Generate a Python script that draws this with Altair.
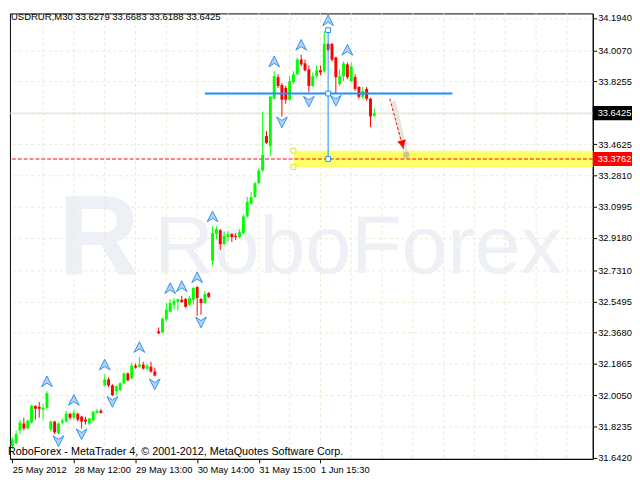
import altair as alt
import pandas as pd

# ---------------- data ----------------
opens = [31.710, 31.727, 31.801, 31.841, 31.813, 31.847, 31.944, 31.938, 31.921, 31.932,
         31.807, 31.853, 31.784, 31.847, 31.853, 31.898, 31.875, 31.898, 31.881, 31.864,
         31.841, 31.858, 31.904, 31.915, 32.063, 32.097, 32.063, 32.029, 32.035, 32.075,
         32.132, 32.103, 32.177, 32.171, 32.183, 32.160, 32.171, 32.143, 32.376, 32.371,
         32.445, 32.490, 32.530, 32.547, 32.559, 32.564, 32.530, 32.559, 32.633, 32.564,
         32.541, 32.598, 32.786, 32.940, 32.963, 32.883, 32.923, 32.940, 32.929, 32.923,
         32.946, 33.043, 33.117, 33.156, 33.236, 33.310, 33.509, 33.452, 33.726, 33.851,
         33.805, 33.788, 33.720, 33.822, 33.868, 33.953, 33.931, 33.896, 33.800, 33.857,
         33.891, 33.885, 34.044, 34.044, 33.965, 33.811, 33.857, 33.925, 33.828, 33.851,
         33.794, 33.737, 33.783, 33.726, 33.6279]
highs = [31.762, 31.801, 31.864, 31.875, 31.864, 31.949, 31.946, 31.967, 31.955, 32.029,
         31.858, 31.858, 31.847, 31.870, 31.915, 31.904, 31.921, 31.904, 31.887, 31.881,
         31.875, 31.915, 31.927, 31.927, 32.126, 32.109, 32.069, 32.063, 32.080, 32.137,
         32.137, 32.194, 32.189, 32.228, 32.200, 32.189, 32.200, 32.166, 32.399, 32.456,
         32.541, 32.564, 32.570, 32.566, 32.581, 32.570, 32.581, 32.633, 32.638, 32.570,
         32.610, 32.604, 32.986, 32.986, 32.969, 32.957, 32.957, 32.946, 32.946, 32.969,
         33.054, 33.156, 33.185, 33.242, 33.321, 33.652, 33.538, 33.743, 33.885, 33.868,
         33.817, 33.800, 33.857, 33.885, 33.965, 33.982, 33.953, 33.919, 33.879, 33.919,
         33.919, 34.120, 34.050, 34.050, 33.970, 33.896, 33.942, 33.936, 33.936, 33.868,
         33.800, 33.794, 33.794, 33.731, 33.6683]
lows = [31.693, 31.722, 31.779, 31.801, 31.807, 31.841, 31.864, 31.875, 31.864, 31.921,
        31.796, 31.779, 31.779, 31.836, 31.847, 31.864, 31.864, 31.853, 31.813, 31.836,
        31.830, 31.853, 31.898, 31.898, 32.058, 32.052, 32.001, 32.006, 32.029, 32.069,
        32.086, 32.097, 32.160, 32.166, 32.154, 32.149, 32.137, 32.115, 32.359, 32.365,
        32.433, 32.485, 32.502, 32.496, 32.541, 32.513, 32.524, 32.530, 32.468, 32.473,
        32.536, 32.570, 32.758, 32.912, 32.849, 32.877, 32.895, 32.895, 32.906, 32.917,
        32.940, 33.037, 33.111, 33.151, 33.230, 33.299, 33.464, 33.395, 33.720, 33.788,
        33.623, 33.697, 33.714, 33.811, 33.862, 33.914, 33.885, 33.766, 33.794, 33.845,
        33.862, 33.879, 33.999, 33.942, 33.754, 33.800, 33.828, 33.840, 33.822, 33.771,
        33.726, 33.726, 33.714, 33.561, 33.6188]
closes = [31.750, 31.779, 31.847, 31.813, 31.858, 31.944, 31.927, 31.927, 31.932, 32.018,
          31.853, 31.790, 31.841, 31.858, 31.898, 31.875, 31.904, 31.864, 31.853, 31.853,
          31.870, 31.910, 31.915, 31.904, 32.097, 32.063, 32.006, 32.058, 32.075, 32.132,
          32.092, 32.177, 32.166, 32.183, 32.160, 32.177, 32.143, 32.120, 32.365, 32.450,
          32.502, 32.541, 32.553, 32.564, 32.547, 32.519, 32.570, 32.627, 32.570, 32.541,
          32.593, 32.576, 32.946, 32.969, 32.883, 32.929, 32.940, 32.923, 32.923, 32.951,
          33.043, 33.128, 33.156, 33.236, 33.310, 33.401, 33.470, 33.737, 33.857, 33.800,
          33.720, 33.720, 33.828, 33.868, 33.953, 33.925, 33.891, 33.800, 33.857, 33.891,
          33.879, 34.044, 34.010, 33.953, 33.851, 33.857, 33.931, 33.851, 33.914, 33.783,
          33.737, 33.771, 33.726, 33.623, 33.6425]

xtick_pos = [0, 16, 32, 48, 64, 80]
xtick_labels = ["25 May 2012", "28 May 12:00", "29 May 13:00", "30 May 14:00",
                "31 May 15:00", "1 Jun 15:30"]
ytick_values = [31.6420, 31.8235, 32.0050, 32.1865, 32.3680, 32.5495, 32.7310, 32.9180,
                33.0995, 33.2810, 33.4625, 33.6425, 33.8255, 34.0070, 34.1940]
vgrid_pos = [8, 16, 24, 32, 40, 48, 56, 64, 72, 80, 88, 96, 104, 112, 120, 128, 136, 144]

up_idx = [9, 16, 24, 33, 41, 44, 48, 52, 68, 75, 82, 87]
up_val = [32.086, 31.978, 32.183, 32.285, 32.627, 32.638, 32.690, 33.043, 33.942, 34.039, 34.181, 34.010]
dn_idx = [12, 18, 26, 37, 49, 70, 77, 84]
dn_val = [31.739, 31.779, 31.967, 32.069, 32.428, 33.589, 33.709, 33.714]

level_price = 33.756
level_span = [50, 114.25]
vline_idx = 82
vline_top = 34.124
target_price = 33.3762
zone_low, zone_high = 33.330, 33.424
zone_start = 73
bid_price = 33.6425
arrow_x = [98.0, 101.6]
arrow_y = [33.726, 33.43]
shadow_x = [99.0, 102.3]
shadow_y = [33.70, 33.40]
arrowhead = (101.3, 33.462)

header = "USDRUR,M30  33.6279 33.6683 33.6188 33.6425"
footer = "RoboForex - MetaTrader 4, \u00a9 2001-2012, MetaQuotes Software Corp."

X_DOMAIN = [-0.6, 150.7]
Y_DOMAIN = [31.6363, 34.2209]
W, H = 594, 454
FONT = "Liberation Sans"
BLUE = "#1e90ff"
GRID = "#ebead2"
WM = "#edf0f5"

# ---------------- scales / axes ----------------
xs = alt.Scale(domain=X_DOMAIN, nice=False, zero=False)
ys = alt.Scale(domain=Y_DOMAIN, nice=False, zero=False)
label_expr = " : ".join(
    f"datum.value == {p} ? '{t}'" for p, t in zip(xtick_pos, xtick_labels)) + " : ''"
xaxis = alt.Axis(values=xtick_pos, labelExpr=label_expr, labelAlign="left",
                 labelBaseline="top", tickSize=4, labelPadding=2, grid=False,
                 domainColor="black", tickColor="black", labelColor="black",
                 labelFont=FONT, labelFontSize=9.5, title=None, labelOverlap=False,
                 labelFlush=False, labelBound=False)
yaxis = alt.Axis(orient="right", values=ytick_values,
                 labelExpr="abs(datum.value - 33.6425) < 0.0001 ? '' : format(datum.value, '.4f')",
                 tickSize=4, labelPadding=1, grid=True, gridColor=GRID, gridDash=[3, 3],
                 domainColor="black", tickColor="black", labelColor="black",
                 labelFont=FONT, labelFontSize=9.5, title=None, labelOverlap=False,
                 labelFlush=False, labelBaseline="middle")


def X(f):
    return alt.X(f, type="quantitative", scale=xs, axis=xaxis)


def Y(f):
    return alt.Y(f, type="quantitative", scale=ys, axis=yaxis)


# ---------------- tables ----------------
n = len(opens)
cd = pd.DataFrame({
    "i": list(range(n)), "o": opens, "h": highs, "l": lows, "c": closes})
cd["dir"] = ["up" if c >= o else "down" for o, c in zip(opens, closes)]
cd["bl"] = cd[["o", "c"]].min(axis=1)
cd["bh"] = cd[["o", "c"]].max(axis=1)
cd["x1"] = cd["i"] - 0.38
cd["x2"] = cd["i"] + 0.38

col = alt.Color("dir:N", scale=alt.Scale(domain=["up", "down"], range=["#00ff00", "#ff0000"]),
                legend=None)

one = pd.DataFrame({"k": [0]})

# watermark
wm_logo = alt.Chart(one).mark_text(text="R", font=FONT, fontWeight="bold", fontSize=115,
                                   align="left", baseline="alphabetic", color=WM).encode(
    x=alt.value(49), y=alt.value(267))
wm_text = alt.Chart(one).mark_text(text="RoboForex", font=FONT,
                                   fontSize=84, align="left", baseline="alphabetic",
                                   color=WM).encode(x=alt.value(147), y=alt.value(265))

vgrid = alt.Chart(pd.DataFrame({"g": vgrid_pos})).mark_rule(
    color=GRID, strokeDash=[3, 3], strokeWidth=1).encode(x=X("g"))

zone = alt.Chart(pd.DataFrame({"zx": [zone_start], "zx2": [X_DOMAIN[1]],
                               "zl": [zone_low], "zh": [zone_high]})).mark_rect(
    color="#ffff66").encode(x=X("zx"), x2="zx2", y=Y("zl"), y2="zh")

bid = alt.Chart(pd.DataFrame({"b": [bid_price]})).mark_rule(color="#dcdccc").encode(y=Y("b"))
target = alt.Chart(pd.DataFrame({"t": [target_price]})).mark_rule(
    color="#ff0000", strokeDash=[4, 2]).encode(y=Y("t"))

wicks = alt.Chart(cd).mark_rule(strokeWidth=1).encode(x=X("i"), y=Y("l"), y2="h", color=col)
bodies = alt.Chart(cd).mark_rect().encode(x=X("x1"), x2="x2", y=Y("bl"), y2="bh", color=col)

hline = alt.Chart(pd.DataFrame({"a": [level_span[0]], "b": [level_span[1]], "p": [level_price]})).mark_rule(
    color=BLUE, strokeWidth=2).encode(x=X("a"), x2="b", y=Y("p"))
vline = alt.Chart(pd.DataFrame({"v": [vline_idx], "y1": [target_price], "y2": [vline_top]})).mark_rule(
    color=BLUE, strokeWidth=1).encode(x=X("v"), y=Y("y1"), y2="y2")
sq = alt.Chart(pd.DataFrame({"v": [vline_idx] * 3, "p": [vline_top, level_price, target_price]})).mark_point(
    shape="square", filled=True, fill="white", stroke=BLUE, strokeWidth=1, size=24, opacity=1).encode(
    x=X("v"), y=Y("p"))
zsq = alt.Chart(pd.DataFrame({"v": [zone_start] * 2, "p": [zone_high, zone_low]})).mark_point(
    shape="square", filled=True, fill="white", stroke="#e8e020", strokeWidth=1, size=24, opacity=1).encode(
    x=X("v"), y=Y("p"))

shadow = alt.Chart(pd.DataFrame({"ax": shadow_x, "ay": shadow_y})).mark_line(
    color="#e6e6dc", strokeWidth=5, strokeCap="round").encode(x=X("ax"), y=Y("ay"))
shadow_dot = alt.Chart(pd.DataFrame({"ax": [shadow_x[1]], "ay": [shadow_y[1]]})).mark_point(
    filled=True, color="#c9c28e", size=45, opacity=0.9).encode(x=X("ax"), y=Y("ay"))
arrow = alt.Chart(pd.DataFrame({"ax": arrow_x, "ay": arrow_y})).mark_line(
    color="#ff0000", strokeDash=[3, 2], strokeWidth=1).encode(x=X("ax"), y=Y("ay"))
ahead = alt.Chart(pd.DataFrame({"ax": [arrowhead[0]], "ay": [arrowhead[1]]})).mark_point(
    shape="triangle-down", filled=True, color="#ff0000", size=80, angle=346, opacity=1).encode(
    x=X("ax"), y=Y("ay"))

UP = "M0,-1L1,1L0,0.35L-1,1Z"
DN = "M0,1L1,-1L0,-0.35L-1,-1Z"
ups = alt.Chart(pd.DataFrame({"i": up_idx, "v": up_val})).mark_point(
    shape=UP, filled=True, fill="#acd3fa", stroke="#2a86ea", strokeWidth=0.9, size=120, opacity=1).encode(
    x=X("i"), y=Y("v"))
dns = alt.Chart(pd.DataFrame({"i": dn_idx, "v": dn_val})).mark_point(
    shape=DN, filled=True, fill="#acd3fa", stroke="#2a86ea", strokeWidth=0.9, size=120, opacity=1).encode(
    x=X("i"), y=Y("v"))

head_t = alt.Chart(one).mark_text(text=header, font=FONT, fontSize=9.7, align="left",
                                  baseline="top", color="black").encode(x=alt.value(1), y=alt.value(-1))
foot_t = alt.Chart(one).mark_text(text=footer, font=FONT, fontSize=11, align="left",
                                  baseline="alphabetic", color="black").encode(x=alt.value(-2), y=alt.value(450))

badges = pd.DataFrame({"v": [bid_price, target_price],
                       "lbl": ["33.6425", "33.3762"], "bg": ["b", "r"]})
RECT = "M-1,-0.36L1,-0.36L1,0.36L-1,0.36Z"
badge_bg = alt.Chart(badges).mark_point(shape=RECT, filled=True, size=1600, opacity=1).encode(
    x=alt.value(614), y=Y("v"),
    color=alt.Color("bg:N", scale=alt.Scale(domain=["b", "r"], range=["#000000", "#ff0000"]), legend=None))
badge_tx = alt.Chart(badges).mark_text(font=FONT, fontSize=9.5, align="left", baseline="middle",
                                       color="white").encode(x=alt.value(599), y=Y("v"), text="lbl:N")

chart = alt.layer(
    wm_logo, wm_text, vgrid, zone, bid, target, shadow, shadow_dot, arrow, ahead,
    wicks, bodies, hline, vline, sq, zsq, ups, dns, head_t, foot_t, badge_bg, badge_tx
).resolve_scale(color="independent").properties(
    width=W, height=H, padding=0, background="white"
).configure_view(stroke="black", strokeWidth=1)

chart.save("out.html", embed_options={"renderer": "svg", "actions": False})
